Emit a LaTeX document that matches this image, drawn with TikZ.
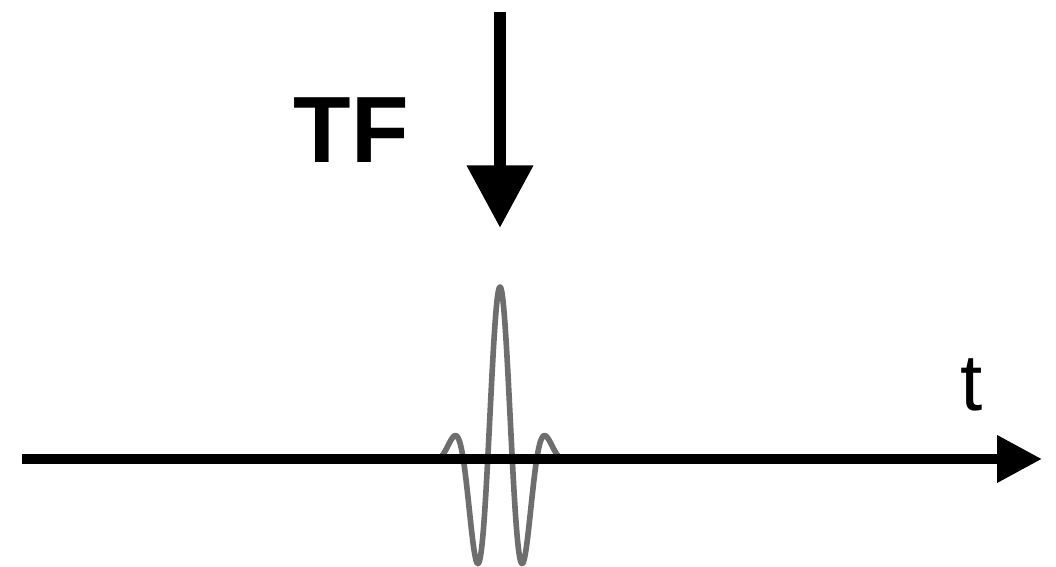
\documentclass[tikz,border=0pt]{standalone}
\usepackage{fontspec}
\usepackage{xcolor}
\newfontfamily\labelfont{Liberation Sans}
\definecolor{wavegray}{HTML}{6E6E6E}
\usetikzlibrary{calc,arrows.meta}

\begin{document}
\begin{tikzpicture}
\useasboundingbox (0,0) rectangle (26.40,14.175);
% pulse on the time axis
\draw[wavegray, line width=4pt, line join=round] plot[domain=-2:2, samples=240] ({12.50+\x},{2.70+4.30*cos(360*\x/1.225)*exp(-(\x/0.825)^2)});
\coordinate (tstart) at (0.55,2.70);
\coordinate (tend) at (26.05,2.70);
\draw[line width=7.2pt, -{Triangle[length=32pt, width=32pt]}] (tstart) -- (tend);
\node[font=\labelfont\fontsize{57}{57}\selectfont, inner sep=0pt] (tlabel) at (24.29,4.55) {t};
% incoming arrow
\coordinate (tftop) at (12.50,13.875);
\coordinate (tftip) at (12.50,8.475);
\draw[line width=9pt, -{Triangle[length=44.5pt, width=45pt]}] (tftop) -- (tftip);
\node[font=\labelfont\bfseries\fontsize{67}{67}\selectfont] (tf) at (8.78,10.925) {TF};
\end{tikzpicture}
\end{document}
